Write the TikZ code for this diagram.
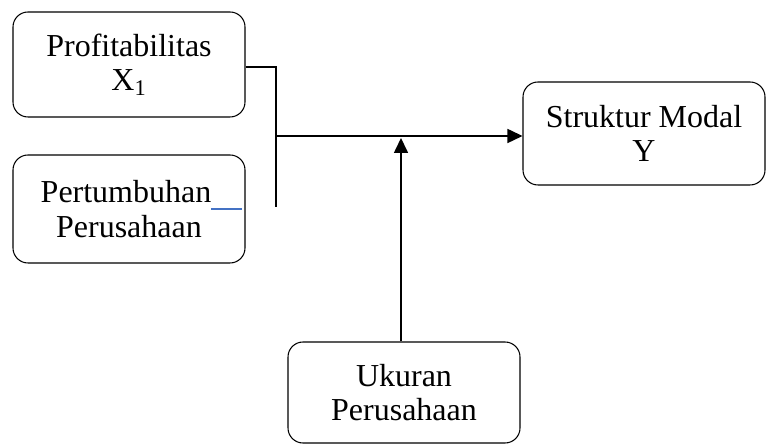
\documentclass[tikz,border=0pt]{standalone}
\usepackage{fontspec}
\setmainfont{Liberation Serif}
\usetikzlibrary{arrows.meta}
\definecolor{linkblue}{RGB}{68,114,196}
\tikzset{
  varbox/.style={draw, rounded corners=0.3cm, line width=0.6pt,
    minimum width=4.64cm, minimum height=2.1cm, align=center,
    font=\fontsize{18.2}{19.5}\selectfont},
  link/.style={line width=0.9pt},
  arrowlink/.style={link, -{Triangle[length=0.3cm,width=0.28cm]}}
}
\begin{document}
\begin{tikzpicture}
      \useasboundingbox (0,0) rectangle (15.34,8.9);
      \node[varbox] (x1) at (2.58,7.61) {Profitabilitas\\X\textsubscript{1}};
      \node[varbox, minimum height=2.16cm, inner xsep=0pt] (x2) at (2.58,4.72)
        {\hspace*{0.5cm}Pertumbuhan\textcolor{linkblue}{\rule[-0.15cm]{0.62cm}{1.2pt}}\\Perusahaan};
      \node[varbox, minimum width=4.84cm, minimum height=2.06cm] (y) at (12.88,6.23)
        {Struktur Modal\\Y};
      \node[varbox, minimum height=2.02cm] (z) at (8.08,1.05) {Ukuran\\Perusahaan};
      \coordinate (top) at (5.52,7.56);
      \coordinate (bottom) at (5.52,4.76);
      \coordinate (join) at (5.52,6.18);
      \coordinate (hit) at (8.02,6.14);
      \begin{scope}[link]
        \draw (x1.east |- top) -- (top) -- (bottom);
        \draw[arrowlink] (join) -- (join -| y.west);
        \draw[arrowlink] (z.north -| hit) -- (hit);
      \end{scope}
    \end{tikzpicture}
\end{document}
